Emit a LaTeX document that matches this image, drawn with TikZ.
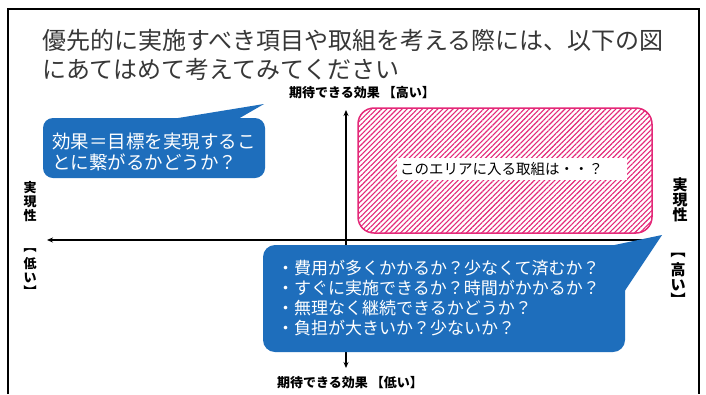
\documentclass[tikz,border=0pt]{standalone}
\usepackage{fontspec}
\setmainfont{Noto Sans CJK JP}
\usetikzlibrary{patterns.meta,arrows.meta}
\definecolor{cblue}{RGB}{30,110,188}
\definecolor{cpink}{RGB}{228,40,120}
\definecolor{ctitle}{RGB}{55,55,55}
\begin{document}
\begin{tikzpicture}[x=1pt,y=-1pt,
  titletext/.style={anchor=west,inner sep=0,text=ctitle,font=\fontsize{24}{28}\selectfont},
  axislabel/.style={inner sep=0,font=\bfseries\fontsize{13}{15}\selectfont},
  vlabel/.style={inner sep=0,font=\bfseries\fontsize{13}{13}\selectfont},
  vlabelr/.style={inner sep=0,font=\bfseries\fontsize{15}{15}\selectfont},
  callouttext/.style={anchor=west,inner sep=0,align=left,text=white},
  axis/.style={line width=1.4pt,{Stealth[length=6pt,width=5pt]}-{Stealth[length=6pt,width=5pt]}}]
\useasboundingbox (0,0) rectangle (706,394);
\fill[white] (0,0) rectangle (706,394);
% frame
\draw[line width=2pt] (8,394) -- (8,9) -- (699,9) -- (699,394);
% title
\node[titletext] (t1) at (42,40) {優先的に実施すべき項目や取組を考える際には、以下の図};
\node[titletext] (t2) at (42,69) {にあてはめて考えてみてください};
% axes
\coordinate (vtop) at (346,110);
\coordinate (vbot) at (346,368);
\coordinate (hleft) at (47,240);
\coordinate (hright) at (657,240);
\draw[axis] (vbot) -- (vtop);
\draw[axis] (hleft) -- (hright);
% pink hatched area
\draw[cpink,line width=1.5pt,rounded corners=16pt,
  pattern={Lines[angle=45,distance=3.6pt,line width=1.1pt]},pattern color=cpink]
  (358,108) rectangle (652,233);
\node[fill=white,inner sep=3pt,text width=224pt,align=left,minimum height=22pt,
  font=\fontsize{14.5}{16}\selectfont] (area) at (512,169) {このエリアに入る取組は・・？};
% left callout
\fill[cblue,rounded corners=10pt] (43,118) rectangle (265,178);
\fill[cblue] (172,119) -- (264,104) -- (238,119) -- cycle;
\node[callouttext,font=\fontsize{18.5}{21}\selectfont] (c1) at (52,152)
  {効果＝目標を実現するこ\\とに繋がるかどうか？};
% bottom callout
\fill[cblue,rounded corners=12pt] (263,245) rectangle (625,352);
\fill[cblue] (605,247) -- (662,235) -- (624,292) -- cycle;
\node[callouttext,font=\fontsize{17}{20}\selectfont] (c2) at (277,298)
  {・費用が多くかかるか？少なくて済むか？\\・すぐに実施できるか？時間がかかるか？\\・無理なく継続できるかどうか？\\・負担が大きいか？少ないか？};
% axis labels
\node[axislabel] (ytop) at (362,93) {期待できる効果 【高い】};
\node[axislabel] (ybot) at (350,383) {期待できる効果 【低い】};
% vertical labels, one character per node
\node[vlabel] (xla) at (30,188) {実};
\node[vlabel] (xlb) at (30,202) {現};
\node[vlabel] (xlc) at (30,216) {性};
\node[vlabel] (xld) at (30,251) {︻};
\node[vlabel] (xle) at (30,264) {低};
\node[vlabel] (xlf) at (30,278) {い};
\node[vlabel] (xlg) at (30,291) {︼};
\node[vlabelr] (xra) at (680,185) {実};
\node[vlabelr] (xrb) at (680,200) {現};
\node[vlabelr] (xrc) at (680,215) {性};
\node[vlabelr] (xrd) at (678,256) {︻};
\node[vlabelr] (xre) at (678,270) {高};
\node[vlabelr] (xrf) at (678,285) {い};
\node[vlabelr] (xrg) at (678,299) {︼};
\end{tikzpicture}
\end{document}
